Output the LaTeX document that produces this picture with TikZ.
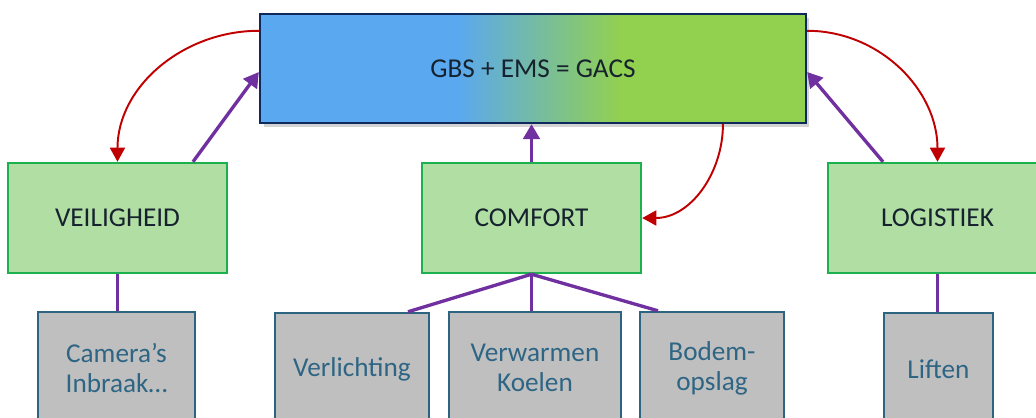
\documentclass[tikz,border=0pt]{standalone}
\usepackage{fontspec}
\setmainfont{Carlito}
\usetikzlibrary{arrows.meta,shadows}
\definecolor{gacsblue}{HTML}{5AA8F0}
\definecolor{gacsgreen}{HTML}{92D050}
\definecolor{gacsline}{HTML}{0E2A5C}
\definecolor{domfill}{HTML}{B1DEA3}
\definecolor{domline}{HTML}{1DB04E}
\definecolor{subfill}{HTML}{BFBFBF}
\definecolor{subline}{HTML}{2D6480}
\definecolor{subtext}{HTML}{2E6584}
\definecolor{darktext}{HTML}{16232F}
\definecolor{linkpurple}{HTML}{7030A0}
\definecolor{backred}{HTML}{C00000}
\pgfdeclarehorizontalshading{gacsshade}{100bp}{color(0bp)=(gacsblue); color(43bp)=(gacsblue); color(58bp)=(gacsgreen); color(100bp)=(gacsgreen)}
\tikzset{
  mainbox/.style={draw=gacsline, line width=1.4pt, shading=gacsshade,
    drop shadow={shadow xshift=2pt, shadow yshift=-2.5pt, opacity=0.35},
    minimum width=10.92cm, minimum height=2.18cm, text=darktext},
  domainbox/.style={draw=domline, fill=domfill, line width=1.4pt,
    minimum width=4.38cm, minimum height=2.2cm, text=darktext},
  subbox/.style={draw=subline, fill=subfill, line width=1.4pt,
    minimum height=2.24cm, text=subtext, align=center},
  uplink/.style={draw=linkpurple, line width=1.9pt, -{Triangle[length=8.5pt,width=9.5pt]}},
  downlink/.style={draw=linkpurple, line width=1.9pt},
  feedback/.style={draw=backred, line width=1.1pt, -{Triangle[length=8pt,width=8.5pt]}}
}
\begin{document}
\begin{tikzpicture}[x=0.02cm, y=-0.02cm, font=\fontsize{15.5pt}{17pt}\selectfont]
  \clip (0,0) rectangle (1036,417);
  \node[mainbox] (gacs) at (533,68.5) {GBS + EMS = GACS};
  \node[domainbox] (veilig) at (117.5,218) {VEILIGHEID};
  \node[domainbox] (comfort) at (531.5,218) {COMFORT};
  \node[domainbox] (logist) at (937.5,218) {LOGISTIEK};
  \node[subbox, minimum width=3.14cm] (camera) at (116.5,368) {Camera’s\\Inbraak…};
  \node[subbox, minimum width=3.08cm] (verl) at (352,369) {Verlichting};
  \node[subbox, minimum width=3.44cm] (verw) at (535,368) {Verwarmen\\Koelen};
  \node[subbox, minimum width=2.88cm] (bodem) at (712,368) {Bodem-\\opslag};
  \node[subbox, minimum width=2.18cm] (liften) at (938.5,369) {Liften};
  \draw[uplink] ([xshift=1.51cm]veilig.north) to ([yshift=-0.07cm]gacs.west);
  \draw[uplink] (comfort.north) to (comfort.north |- gacs.south);
  \draw[uplink] ([xshift=-1.09cm]logist.north) to ([yshift=-0.07cm]gacs.east);
  \draw[feedback] ([yshift=-0.36cm]gacs.north west) to[out=180, in=90] (veilig.north);
  \draw[feedback] ([xshift=3.8cm]gacs.south) to[out=-90, in=0] (comfort.east);
  \draw[feedback] ([yshift=-0.36cm]gacs.north east) to[out=0, in=90] (logist.north);
  \draw[downlink] (veilig.south) to (veilig.south |- camera.north);
  \draw[downlink] (comfort.south) to ([xshift=1.12cm]verl.north);
  \draw[downlink] (comfort.south) to (comfort.south |- verw.north);
  \draw[downlink] (comfort.south) to ([xshift=-1.08cm]bodem.north);
  \draw[downlink] (logist.south) to (logist.south |- liften.north);
\end{tikzpicture}
\end{document}
